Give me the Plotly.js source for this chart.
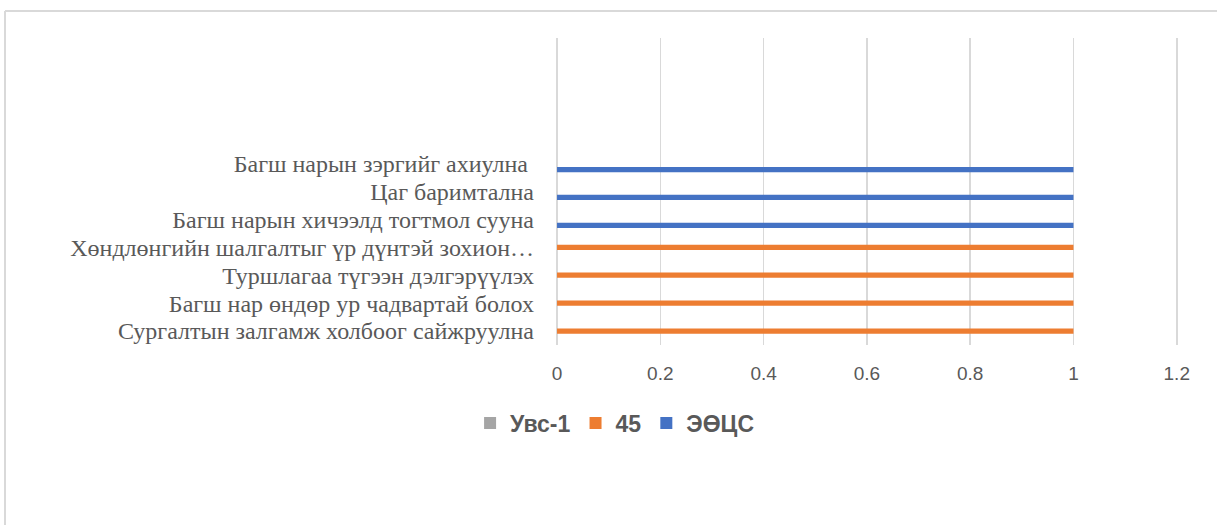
<!DOCTYPE html>
<html>
<head>
<meta charset="utf-8">
<script src="https://cdn.plot.ly/plotly-3.0.1.min.js"></script>
<style>
  html, body { margin: 0; padding: 0; background: #ffffff; }
  #chart { width: 1217px; height: 525px; }
</style>
</head>
<body>
<div id="chart"></div>
<script>
// Categories, bottom to top (the top four rows are empty in the source)
const categories = [
  "Сургалтын залгамж холбоог сайжруулна",
  "Багш нар өндөр ур чадвартай болох",
  "Туршлагаа түгээн дэлгэрүүлэх",
  "Хөндлөнгийн шалгалтыг үр дүнтэй зохион…",
  "Багш нарын хичээлд тогтмол сууна",
  "Цаг баримтална",
  "Багш нарын зэргийг ахиулна\u00A0",
  " ", "  ", "   ", "    "
];
const seriesNames = ["Увс-1", "45", "ЭӨЦС"];
const uvs1 = [0, 0, 0, 0, 0, 0, 0, null, null, null, null];
const s45 = [1, 1, 1, 1, 0, 0, 0, null, null, null, null];
const eotss = [0, 0, 0, 0, 1, 1, 1, null, null, null, null];
const xTicks = [0, 0.2, 0.4, 0.6, 0.8, 1, 1.2];

const colors = { "Увс-1": "#A5A5A5", "45": "#ED7D31", "ЭӨЦС": "#4472C4" };

// drawn bottom-to-top within a group: ЭӨЦС, 45, Увс-1
const traces = [
  { name: seriesNames[2], x: eotss, legendrank: 3 },
  { name: seriesNames[1], x: s45, legendrank: 2 },
  { name: seriesNames[0], x: uvs1, legendrank: 1 }
].map(t => ({
  type: "bar",
  orientation: "h",
  y: categories,
  x: t.x,
  name: t.name,
  legendrank: t.legendrank,
  marker: { color: colors[t.name], line: { width: 0 } },
  hoverinfo: "x+y+name"
}));

// plot-area pixel edges (with ~1px of padding so the edge gridlines show)
const pl = 556, pr = 1178, pt = 38, pb = 345;
const px = v => (v - pl) / (pr - pl);
const py = v => (pb - v) / (pb - pt);

const layout = {
  width: 1217,
  height: 525,
  margin: { l: pl, r: 1217 - pr, t: pt, b: 525 - pb, pad: 0 },
  paper_bgcolor: "#ffffff",
  plot_bgcolor: "#ffffff",
  barmode: "group",
  bargap: 0.36,
  bargroupgap: 0.12,
  showlegend: true,
  legend: {
    orientation: "h",
    xref: "container", yref: "container",
    x: 0.505, xanchor: "center",
    y: 1 - 423 / 525, yanchor: "middle",
    font: { family: "Liberation Sans, Arial, sans-serif", size: 23, color: "#595959", weight: "bold" },
    itemwidth: 30,
    tracegroupgap: 0
  },
  xaxis: {
    range: [-0.002, 1.2024],
    tickvals: xTicks,
    ticktext: xTicks.map(String),
    showgrid: true,
    gridcolor: "#d9d9d9",
    gridwidth: 1.5,
    zeroline: false,
    showline: false,
    ticks: "",
    ticklabelstandoff: 15,
    tickfont: { family: "Liberation Sans, Arial, sans-serif", size: 19, color: "#595959" },
    fixedrange: true
  },
  yaxis: {
    type: "category",
    categoryorder: "array",
    categoryarray: categories,
    tickmode: "array",
    tickvals: categories,
    ticktext: categories,
    showgrid: false,
    zeroline: false,
    showline: false,
    ticks: "",
    ticklabelstandoff: 21,
    tickfont: { family: "Liberation Serif, Times New Roman, serif", size: 24, color: "#595959" },
    automargin: false,
    fixedrange: true
  },
  shapes: [
    { type: "line", xref: "paper", yref: "paper", x0: px(5), x1: px(5), y0: py(11), y1: py(540),
      line: { color: "#d9d9d9", width: 2 } },
    { type: "line", xref: "paper", yref: "paper", x0: px(5), x1: px(1240), y0: py(11), y1: py(11),
      line: { color: "#d9d9d9", width: 2 } }
  ]
};

Plotly.newPlot("chart", traces, layout, { displayModeBar: false, staticPlot: true });
</script>
</body>
</html>
